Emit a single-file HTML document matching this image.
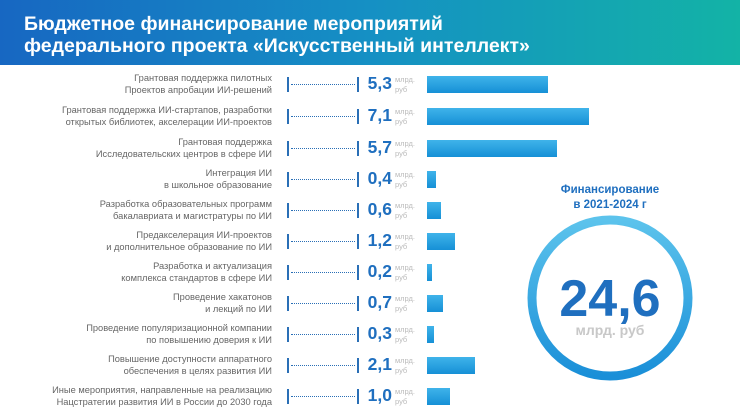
<!DOCTYPE html>
<html><head><meta charset="utf-8"><style>
body{margin:0;width:740px;height:416px;overflow:hidden;background:#fff;font-family:"Liberation Sans",sans-serif;position:relative}
.hdr{position:absolute;left:0;top:0;width:740px;height:65px;background:linear-gradient(90deg,#1767c2 0%,#1590c4 50%,#13b3a6 100%)}
.hdr div{position:absolute;left:24px;top:13px;color:#fff;font-weight:bold;font-size:19.5px;line-height:22px}
.row{position:absolute;left:0;width:740px;height:31px}
.lab{position:absolute;right:468px;top:2px;text-align:right;font-size:9.3px;line-height:12px;color:#666;white-space:nowrap}
.t1{position:absolute;left:287px;top:7px;width:1.5px;height:15px;background:#2a6fb6}
.t2{position:absolute;left:357px;top:7px;width:1.5px;height:15px;background:#2a6fb6}
.dl{position:absolute;left:291px;top:14px;width:64px;border-top:1px dotted #2a6fb6}
.val{position:absolute;left:362px;width:30px;text-align:right;top:3px;font-size:17.5px;font-weight:bold;color:#1f6fbf}
.u{position:absolute;left:395px;top:5px;font-size:7.5px;line-height:10px;color:#bbb}
.bar{position:absolute;left:427px;top:6px;height:17px;background:linear-gradient(180deg,#3fb3ea,#1690d6)}
</style></head><body>
<div class="hdr"><div>Бюджетное финансирование мероприятий<br>федерального проекта «Искусственный интеллект»</div></div>

<div class="row" style="top:70px"><div class="lab">Грантовая поддержка пилотных<br>Проектов апробации ИИ-решений</div><div class="t1"></div><div class="dl"></div><div class="t2"></div><div class="val">5,3</div><div class="u">млрд.<br>руб</div><div class="bar" style="width:121px"></div></div>
<div class="row" style="top:102px"><div class="lab">Грантовая поддержка ИИ-стартапов, разработки<br>открытых библиотек, акселерации ИИ-проектов</div><div class="t1"></div><div class="dl"></div><div class="t2"></div><div class="val">7,1</div><div class="u">млрд.<br>руб</div><div class="bar" style="width:162px"></div></div>
<div class="row" style="top:134px"><div class="lab">Грантовая поддержка<br>Исследовательских центров в сфере ИИ</div><div class="t1"></div><div class="dl"></div><div class="t2"></div><div class="val">5,7</div><div class="u">млрд.<br>руб</div><div class="bar" style="width:130px"></div></div>
<div class="row" style="top:165px"><div class="lab">Интеграция ИИ<br>в школьное образование</div><div class="t1"></div><div class="dl"></div><div class="t2"></div><div class="val">0,4</div><div class="u">млрд.<br>руб</div><div class="bar" style="width:9px"></div></div>
<div class="row" style="top:196px"><div class="lab">Разработка образовательных программ<br>бакалавриата и магистратуры по ИИ</div><div class="t1"></div><div class="dl"></div><div class="t2"></div><div class="val">0,6</div><div class="u">млрд.<br>руб</div><div class="bar" style="width:14px"></div></div>
<div class="row" style="top:227px"><div class="lab">Предакселерация ИИ-проектов<br>и дополнительное образование по ИИ</div><div class="t1"></div><div class="dl"></div><div class="t2"></div><div class="val">1,2</div><div class="u">млрд.<br>руб</div><div class="bar" style="width:28px"></div></div>
<div class="row" style="top:258px"><div class="lab">Разработка и актуализация<br>комплекса стандартов в сфере ИИ</div><div class="t1"></div><div class="dl"></div><div class="t2"></div><div class="val">0,2</div><div class="u">млрд.<br>руб</div><div class="bar" style="width:5px"></div></div>
<div class="row" style="top:289px"><div class="lab">Проведение хакатонов<br>и лекций по ИИ</div><div class="t1"></div><div class="dl"></div><div class="t2"></div><div class="val">0,7</div><div class="u">млрд.<br>руб</div><div class="bar" style="width:16px"></div></div>
<div class="row" style="top:320px"><div class="lab">Проведение популяризационной компании<br>по повышению доверия к ИИ</div><div class="t1"></div><div class="dl"></div><div class="t2"></div><div class="val">0,3</div><div class="u">млрд.<br>руб</div><div class="bar" style="width:7px"></div></div>
<div class="row" style="top:351px"><div class="lab">Повышение доступности аппаратного<br>обеспечения в целях развития ИИ</div><div class="t1"></div><div class="dl"></div><div class="t2"></div><div class="val">2,1</div><div class="u">млрд.<br>руб</div><div class="bar" style="width:48px"></div></div>
<div class="row" style="top:382px"><div class="lab">Иные мероприятия, направленные на реализацию<br>Нацстратегии развития ИИ в России до 2030 года</div><div class="t1"></div><div class="dl"></div><div class="t2"></div><div class="val">1,0</div><div class="u">млрд.<br>руб</div><div class="bar" style="width:23px"></div></div>

<div style="position:absolute;left:530px;top:183px;width:160px;text-align:center;color:#1f6fbf;font-weight:bold;font-size:11.5px;line-height:15px">Финансирование<br>в 2021-2024 г</div>
<svg style="position:absolute;left:0;top:0" width="740" height="416">
<defs><linearGradient id="g" x1="0" y1="0" x2="0" y2="1"><stop offset="0" stop-color="#5cc3ec"/><stop offset="1" stop-color="#1a8fd8"/></linearGradient></defs>
<circle cx="610" cy="298" r="78" fill="none" stroke="url(#g)" stroke-width="9"/>
<text x="610" y="316" text-anchor="middle" font-family="Liberation Sans" font-weight="bold" font-size="52" fill="#1f6fbf">24,6</text>
<text x="610" y="335" text-anchor="middle" font-family="Liberation Sans" font-weight="bold" font-size="14" fill="#c8c8c8">млрд. руб</text>
</svg>
</body></html>
